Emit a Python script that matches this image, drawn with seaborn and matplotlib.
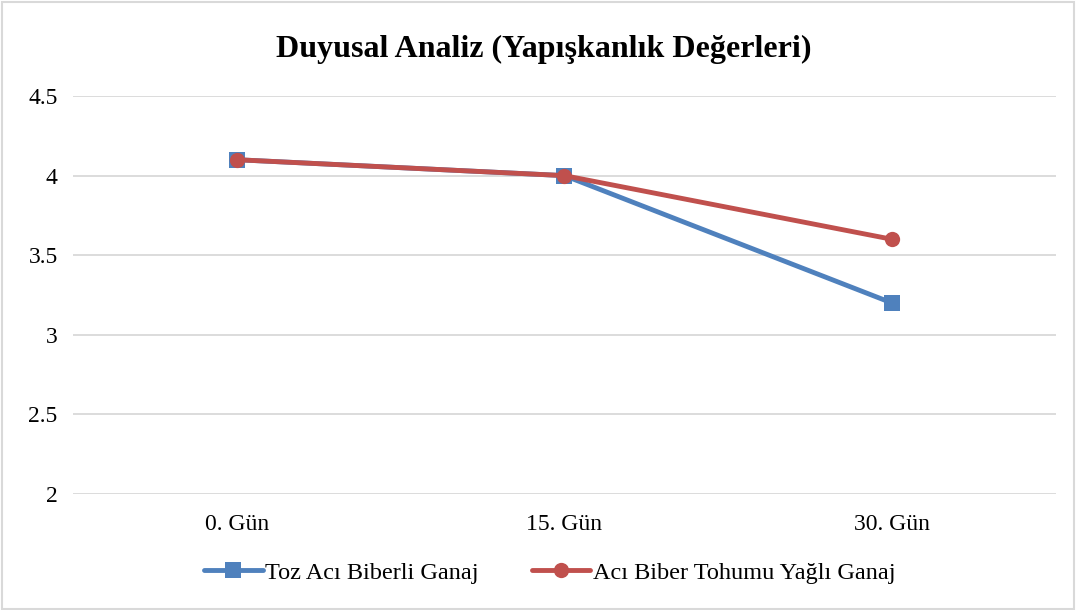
import matplotlib
matplotlib.use('Agg')
import matplotlib.pyplot as plt
import seaborn as sns
import pandas as pd
from matplotlib.patches import Rectangle

days = ['0. Gün', '15. Gün', '30. Gün']
toz_aci = [4.1, 4.0, 3.2]
tohum_yagli = [4.1, 4.0, 3.6]
series_names = ['Toz Acı Biberli Ganaj', 'Acı Biber Tohumu Yağlı Ganaj']

df = pd.DataFrame({
    'Gün': days * 2,
    'Değer': toz_aci + tohum_yagli,
    'Seri': [series_names[0]] * 3 + [series_names[1]] * 3,
})

sns.set_theme(style='white')
plt.rcParams['font.family'] = ['Liberation Serif', 'DejaVu Serif']
plt.rcParams['text.color'] = 'black'

fig = plt.figure(figsize=(10.76, 6.10), dpi=100)
ax = fig.add_axes([0.0678, 0.190, 0.9136, 0.6526])

palette = {series_names[0]: '#4F81BD', series_names[1]: '#C0504D'}
markers = {series_names[0]: 's', series_names[1]: 'o'}

sns.lineplot(data=df, x='Gün', y='Değer', hue='Seri', style='Seri',
             palette=palette, markers=markers, dashes=False,
             linewidth=3.5, markersize=11, markeredgewidth=0,
             sort=False, ax=ax)

ax.set_ylim(2, 4.5)
ax.set_yticks([2, 2.5, 3, 3.5, 4, 4.5])
ax.set_yticklabels(['2', '2.5', '3', '3.5', '4', '4.5'])
ax.set_xlim(-0.5, 2.5)
ax.grid(True, axis='y', color='#D9D9D9', linewidth=1.3)
ax.set_axisbelow(True)
for s in ax.spines.values():
    s.set_visible(False)
ax.tick_params(axis='both', length=0, labelsize=17, labelcolor='black')
ax.tick_params(axis='y', pad=11)
ax.tick_params(axis='x', pad=14)
ax.set_xlabel('')
ax.set_ylabel('')

fig.suptitle('Duyusal Analiz (Yapışkanlık Değerleri)', y=0.943,
             fontsize=23, fontweight='bold', x=0.505, color='black')

handles, labels = ax.get_legend_handles_labels()
ax.legend_.remove()
fig.legend(handles, labels, loc='center', bbox_to_anchor=(0.511, 0.061), ncol=2,
           frameon=False, fontsize=17.5, handlelength=2.4, handletextpad=0.1,
           columnspacing=2.2, labelcolor='black')

fig.add_artist(Rectangle((0.002, 0.002), 0.996, 0.994, transform=fig.transFigure,
                         fill=False, edgecolor='#D9D9D9', linewidth=1.5))

fig.savefig('out.png', dpi=100)
plt.close(fig)
